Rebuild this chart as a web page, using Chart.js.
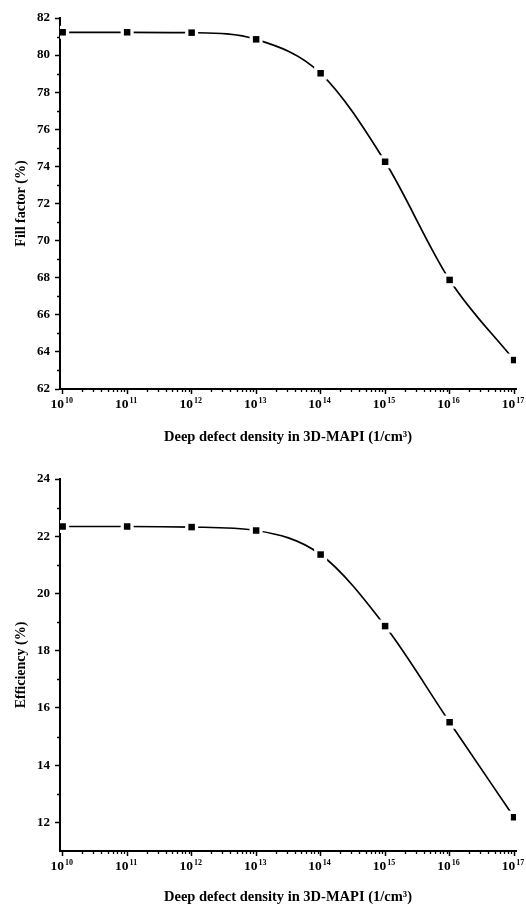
<!DOCTYPE html>
<html>
<head>
<meta charset="utf-8">
<script src="https://cdn.jsdelivr.net/npm/chart.js@4/dist/chart.umd.min.js"></script>
<style>
  html, body { margin: 0; padding: 0; background: #fff; }
  canvas { display: block; }
</style>
</head>
<body>
<canvas id="ff" width="526" height="453"></canvas>
<canvas id="eff" width="526" height="454"></canvas>
<script>
// ---- data ----
const exponents = [10, 11, 12, 13, 14, 15, 16, 17];
const defectDensity = [1e10, 1e11, 1e12, 1e13, 1e14, 1e15, 1e16, 1e17];
const fillFactor = [81.23, 81.23, 81.21, 80.85, 79.02, 74.25, 67.88, 63.56];
const efficiency = [22.34, 22.34, 22.32, 22.20, 21.36, 18.86, 15.50, 12.18];
const ffTicks = [62, 64, 66, 68, 70, 72, 74, 76, 78, 80, 82];
const effTicks = [12, 14, 16, 18, 20, 22, 24];
const xTitle = 'Deep defect density in 3D-MAPI (1/cm\u00B3)';

const FONT = "'Liberation Serif', 'Times New Roman', serif";

function makeChart(id, values, yTicks, yMin, yMax, yTitle, padTop, xBoxH, titlePadBottom) {
  const pts = defectDensity.map((x, i) => ({ x: x, y: values[i] }));
  const axisPlugin = {
    id: 'axisExtras' + id,
    afterDraw(chart) {
      const ctx = chart.ctx;
      const xs = chart.scales.x, ys = chart.scales.y;
      const area = chart.chartArea;
      ctx.save();
      ctx.strokeStyle = '#000';
      ctx.lineWidth = 1.3;
      // minor x ticks (log)
      ctx.beginPath();
      for (let e = exponents[0]; e < exponents[exponents.length - 1]; e++) {
        for (let k = 2; k <= 9; k++) {
          const px = Math.round(xs.getPixelForValue(k * Math.pow(10, e))) + 0.5;
          ctx.moveTo(px, area.bottom);
          ctx.lineTo(px, area.bottom + 3);
        }
      }
      // minor y ticks (odd values)
      for (let v = Math.ceil(yMin); v <= yMax; v++) {
        if (yTicks.indexOf(v) !== -1) continue;
        if (v === yMin) continue;
        const py = Math.round(ys.getPixelForValue(v)) + 0.5;
        ctx.moveTo(area.left - 3, py);
        ctx.lineTo(area.left, py);
      }
      ctx.stroke();
      // x tick labels with superscripts
      ctx.fillStyle = '#000';
      ctx.textBaseline = 'alphabetic';
      ctx.textAlign = 'left';
      exponents.forEach(e => {
        const px = xs.getPixelForValue(Math.pow(10, e));
        ctx.font = 'bold 13.5px ' + FONT;
        const w1 = ctx.measureText('10').width;
        ctx.font = 'bold 8px ' + FONT;
        const w2 = ctx.measureText(String(e)).width;
        const x0 = px - 1 - (w1 + w2 + 1) / 2;
        const base = area.bottom + 19;
        ctx.font = 'bold 13.5px ' + FONT;
        ctx.fillText('10', x0, base);
        ctx.font = 'bold 8px ' + FONT;
        ctx.fillText(String(e), x0 + w1 + 1, base - 5);
      });
      ctx.restore();
    }
  };

  return new Chart(document.getElementById(id), {
    type: 'line',
    data: {
      datasets: [
        {
          label: 'markers',
          data: pts,
          showLine: false,
          pointStyle: 'rect',
          pointRadius: 4.6,
          pointBackgroundColor: '#000',
          pointBorderWidth: 0,
          order: 0
        },
        {
          label: 'curve',
          data: pts,
          borderColor: '#000',
          borderWidth: 1.7,
          cubicInterpolationMode: 'monotone',
          fill: false,
          pointStyle: 'rect',
          pointRadius: 9.2,
          pointBackgroundColor: '#fff',
          pointBorderWidth: 0,
          order: 1
        }
      ]
    },
    options: {
      responsive: false,
      animation: false,
      events: [],
      layout: { padding: { top: padTop, left: 0, right: 10, bottom: 0 } },
      plugins: { legend: { display: false }, tooltip: { enabled: false } },
      scales: {
        x: {
          type: 'logarithmic',
          bounds: 'data',
          min: 9.1e9,
          max: 1.07e17,
          z: 1,
          afterBuildTicks: s => { s.ticks = defectDensity.map(v => ({ value: v })); },
          afterFit: s => { s.height = xBoxH; },
          grid: { drawOnChartArea: false, drawTicks: true, tickLength: 5, tickWidth: 1.5, tickColor: '#000' },
          border: { display: true, color: '#000', width: 2 },
          ticks: { display: false },
          title: {
            display: true,
            text: xTitle,
            color: '#000',
            font: { family: FONT, size: 14.5, weight: 'bold', lineHeight: 1 },
            padding: { top: 0, bottom: titlePadBottom }
          }
        },
        y: {
          type: 'linear',
          min: yMin,
          max: yMax,
          z: 1,
          afterBuildTicks: s => { s.ticks = yTicks.map(v => ({ value: v })); },
          afterFit: s => { s.width = 60; },
          grid: { drawOnChartArea: false, drawTicks: true, tickLength: 5, tickWidth: 1.5, tickColor: '#000' },
          border: { display: true, color: '#000', width: 2 },
          ticks: {
            color: '#000',
            padding: 5,
            font: { family: FONT, size: 13, weight: 'bold' }
          },
          title: {
            display: true,
            text: yTitle,
            color: '#000',
            font: { family: FONT, size: 14, weight: 'bold', lineHeight: 1 },
            padding: { top: 14, bottom: 0 }
          }
        }
      }
    },
    plugins: [axisPlugin]
  });
}

makeChart('ff', fillFactor, ffTicks, 62, 82, 'Fill factor (%)', 18, 64, 9);
makeChart('eff', efficiency, effTicks, 11, 24, 'Efficiency (%)', 26, 56, 3);
</script>
</body>
</html>
